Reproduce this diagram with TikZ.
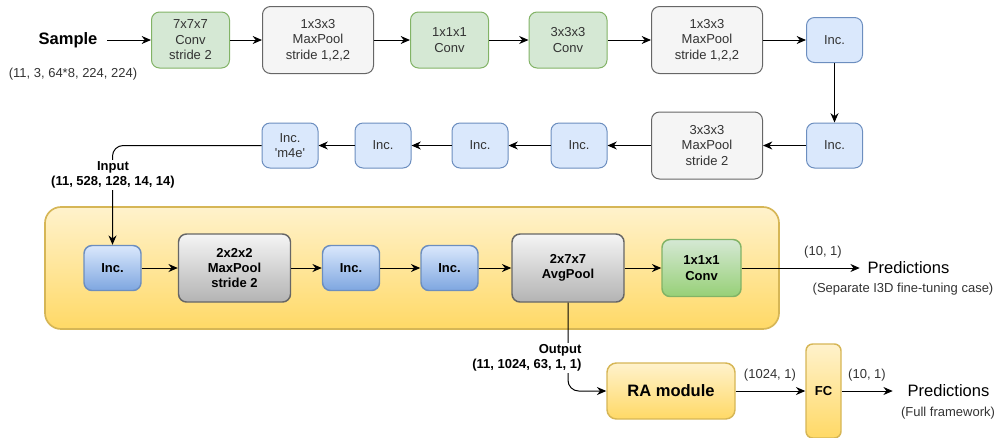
\documentclass[tikz,border=0pt]{standalone}
\usepackage{fontspec}
\setmainfont{Liberation Sans}
\usetikzlibrary{arrows.meta}
\usetikzlibrary{positioning}

\definecolor{convfill}{HTML}{D5E8D4}
\definecolor{convline}{HTML}{82B366}
\definecolor{convdeep}{HTML}{97D077}
\definecolor{poolfill}{HTML}{F5F5F5}
\definecolor{poolline}{HTML}{666666}
\definecolor{pooldeep}{HTML}{B3B3B3}
\definecolor{incfill}{HTML}{DAE8FC}
\definecolor{incline}{HTML}{6C8EBF}
\definecolor{incdeep}{HTML}{7EA6E0}
\definecolor{stagefill}{HTML}{FFF2CC}
\definecolor{stagedeep}{HTML}{FFD966}
\definecolor{stageline}{HTML}{D6B656}
\definecolor{darktext}{HTML}{333333}

\newcommand{\boxfont}{\fontsize{9.75}{11.6}\selectfont}
\newcommand{\largefont}{\fontsize{12.4}{14}\selectfont}

\tikzset{
  box/.style={draw, rounded corners=6pt, line width=0.75pt, align=center,
    inner sep=0pt, font=\boxfont, text=darktext},
  convbox/.style={box, fill=convfill, draw=convline,
    minimum width=58.5pt, minimum height=42pt},
  poolbox/.style={box, fill=poolfill, draw=poolline,
    minimum width=83.25pt, minimum height=50.25pt},
  incbox/.style={box, fill=incfill, draw=incline,
    minimum width=42pt, minimum height=33.75pt},
  deepbox/.style={box, line width=1.1pt, text=black, font=\boxfont\bfseries},
  deepinc/.style={deepbox, top color=incfill, bottom color=incdeep, draw=incline,
    minimum width=42.75pt, minimum height=33.75pt},
  deeppool/.style={deepbox, top color=poolfill, bottom color=pooldeep, draw=poolline,
    minimum width=84pt, minimum height=51pt},
  deepconv/.style={deepbox, top color=convfill, bottom color=convdeep, draw=convline,
    minimum width=59.25pt, minimum height=42.75pt},
  goldbox/.style={deepbox, rounded corners=7pt, top color=stagefill,
    bottom color=stagedeep, draw=stageline},
  stage/.style={draw=stageline, line width=1.25pt, rounded corners=12pt,
    top color=stagefill, bottom color=stagedeep,
    minimum width=550.5pt, minimum height=91.5pt, inner sep=0pt},
  plain/.style={inner sep=0pt, align=center},
  note/.style={inner sep=0pt, font=\boxfont, text=darktext},
  tag/.style={fill=white, inner sep=1pt, font=\boxfont\bfseries, align=center},
  flow/.style={-{Stealth[length=7pt,width=6pt]}, line width=0.75pt}
}

\begin{document}
\begin{tikzpicture}[x=0.75pt, y=-0.75pt]
\useasboundingbox (0,0) rectangle (998,437);
\node[stage] (stage) at (412,268) {};

\node[plain, font=\largefont\bfseries, minimum width=58.5pt] (sample) at (68,40) {Sample};
\node[note] (samplesize) at (73,74) {(11, 3, 64*8, 224, 224)};
\node[convbox] (conv7) at (190.5,40) {7x7x7\\Conv\\stride 2};
\node[poolbox] (pool1) at (318,40) {1x3x3\\MaxPool\\stride 1,2,2};
\node[convbox] (conv2b) at (449.5,40) {1x1x1\\Conv};
\node[convbox] (conv2c) at (568,40) {3x3x3\\Conv};
\node[poolbox] (pool2) at (707,40) {1x3x3\\MaxPool\\stride 1,2,2};
\node[incbox] (inc3b) at (834.5,40) {Inc.};

\node[incbox] (inc3c) at (834.5,145.5) {Inc.};
\node[poolbox] (pool3) at (707,145.5) {3x3x3\\MaxPool\\stride 2};
\node[incbox] (inc4b) at (579,145.5) {Inc.};
\node[incbox] (inc4c) at (480,145.5) {Inc.};
\node[incbox] (inc4d) at (383,145.5) {Inc.};
\node[incbox] (inc4e) at (290,145.5) {Inc.\\\textquotesingle m4e\textquotesingle};

\node[deepinc] (inc4f) at (112.5,268) {Inc.};
\node[deeppool] (pool4) at (234.5,268) {2x2x2\\MaxPool\\stride 2};
\node[deepinc] (inc5b) at (351,268) {Inc.};
\node[deepinc] (inc5c) at (449.5,268) {Inc.};
\node[deeppool] (avgpool) at (568,268) {2x7x7\\AvgPool};
\node[deepconv] (logits) at (701.5,268) {1x1x1\\Conv};

\node[plain, font=\largefont, minimum width=72.75pt] (pred1) at (908.5,268) {Predictions};
\node[note] (sepcase) at (903,289) {(Separate I3D fine-tuning case)};
\node[note] (logitdim) at (823,252) {(10, 1)};

\node[goldbox, font=\largefont\bfseries, minimum width=96pt, minimum height=42pt] (ramod) at (671,391) {RA module};
\node[goldbox, rounded corners=5pt, minimum width=26.25pt, minimum height=70.5pt] (fc) at (823.5,391) {FC};
\node[plain, font=\largefont, minimum width=83.25pt] (pred2) at (948.5,391) {Predictions};
\node[note] (fullcase) at (948,413) {(Full framework)};
\node[note] (radim) at (770,375) {(1024, 1)};
\node[note] (fcdim) at (867,375) {(10, 1)};

\draw[flow] (sample) -- (conv7);
\draw[flow] (conv7) -- (pool1);
\draw[flow] (pool1) -- (conv2b);
\draw[flow] (conv2b) -- (conv2c);
\draw[flow] (conv2c) -- (pool2);
\draw[flow] (pool2) -- (inc3b);
\draw[flow] (inc3b) -- (inc3c);
\draw[flow] (inc3c) -- (pool3);
\draw[flow] (pool3) -- (inc4b);
\draw[flow] (inc4b) -- (inc4c);
\draw[flow] (inc4c) -- (inc4d);
\draw[flow] (inc4d) -- (inc4e);
\draw[flow, rounded corners=8pt] (inc4e.west) -| (inc4f.north);
\node[tag] (intag) at (113,175) {Input\\(11, 528, 128, 14, 14)};

\draw[flow] (inc4f) -- (pool4);
\draw[flow] (pool4) -- (inc5b);
\draw[flow] (inc5b) -- (inc5c);
\draw[flow] (inc5c) -- (avgpool);
\draw[flow] (avgpool) -- (logits);
\draw[flow] (logits) -- (pred1);

\draw[flow, rounded corners=8pt] (avgpool.south) |- (ramod.west);
\node[tag, align=right, anchor=east] (outtag) at (583,358) {Output\\(11, 1024, 63, 1, 1)};
\draw[flow] (ramod) -- (fc);
\draw[flow] (fc) -- (pred2);
\end{tikzpicture}
\end{document}
